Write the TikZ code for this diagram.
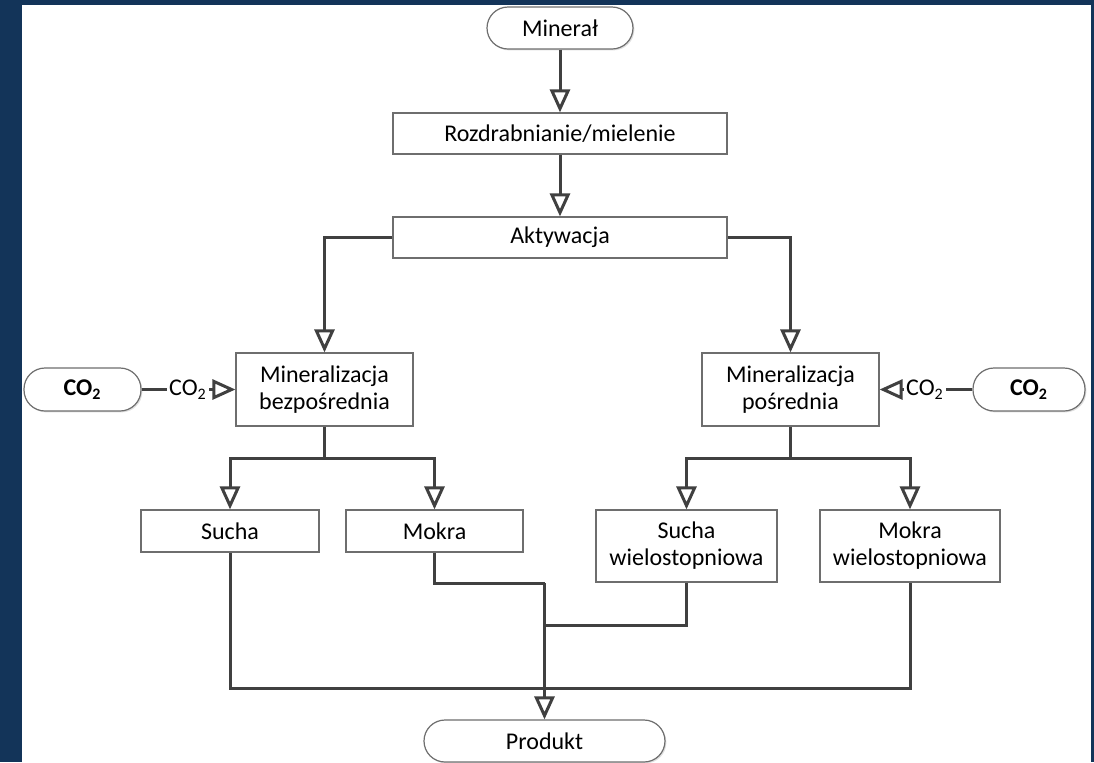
\documentclass[tikz,border=0pt]{standalone}
\usepackage{fontspec}
\setmainfont{Carlito}
\usetikzlibrary{arrows.meta,shadows}
\definecolor{navy}{RGB}{19,52,89}
\definecolor{wire}{RGB}{64,64,64}
\definecolor{edge}{RGB}{110,110,110}
\tikzset{
  boxbase/.style={draw=edge, line width=0.6pt, fill=white, inner sep=0pt,
    align=center, font=\fontsize{12}{13.5}\selectfont,
    drop shadow={shadow xshift=0.7pt, shadow yshift=-0.7pt, opacity=0.25}},
  procbox/.style={boxbase},
  termbox/.style={boxbase, rounded corners=10.5pt},
  wirel/.style={draw=wire, line width=1.5pt},
  arr/.style={wirel, -{Triangle[open, length=11.5pt, width=10pt]}},
  gaslabel/.style={inner sep=1pt, font=\fontsize{12}{13.5}\selectfont}
}
\begin{document}
\begin{tikzpicture}[x=0.5pt, y=-0.5pt]
  % frame and canvas
  \useasboundingbox (0,0) rectangle (1094,762);
  \fill[navy] (0,0) rectangle (1094,762);
  \fill[white] (22,5) rectangle (1091,762);

  % nodes
  \node[termbox, minimum width=73pt, minimum height=21pt] (miner) at (560,28) {Minerał};
  \node[procbox, minimum width=167pt, minimum height=20.5pt] (rozd) at (560,133.5) {Rozdrabnianie/mielenie};
  \node[procbox, minimum width=167pt, minimum height=20.5pt] (akt) at (560,237.5) {Aktywacja};
  \node[procbox, minimum width=88.5pt, minimum height=36.5pt] (bezp) at (324.5,389.5) {Mineralizacja\\bezpośrednia};
  \node[procbox, minimum width=88.5pt, minimum height=36.5pt] (posr) at (790.5,389.5) {Mineralizacja\\pośrednia};
  \node[termbox, minimum width=58.5pt, minimum height=21.5pt] (co2L) at (82.5,389.5) {\textbf{CO\textsubscript{2}}};
  \node[termbox, minimum width=56pt, minimum height=21.5pt] (co2R) at (1029,389.5) {\textbf{CO\textsubscript{2}}};
  \node[gaslabel] (labL) at (188,389.5) {CO\textsubscript{2}};
  \node[gaslabel] (labR) at (925,389.5) {CO\textsubscript{2}};
  \node[procbox, minimum width=89pt, minimum height=21pt] (sucha) at (230,531) {Sucha};
  \node[procbox, minimum width=88.5pt, minimum height=21pt] (mokra) at (434.5,531) {Mokra};
  \node[procbox, minimum width=90.5pt, minimum height=36pt] (suchaw) at (686.5,546) {Sucha\\wielostopniowa};
  \node[procbox, minimum width=90pt, minimum height=36pt] (mokraw) at (910,546) {Mokra\\wielostopniowa};
  \node[termbox, minimum width=120.5pt, minimum height=21pt] (prod) at (544.5,741) {Produkt};

  % junction points
  \coordinate (jL) at (324.5,458);
  \coordinate (jR) at (790.5,458);
  \coordinate (mk) at (544.5,583);
  \coordinate (sw) at (544.5,625);
  \coordinate (bus) at (544.5,688);

  % main line
  \draw[arr] (miner) -- (rozd);
  \draw[arr] (rozd) -- (akt);
  \draw[arr] (akt.west) -| (bezp.north);
  \draw[arr] (akt.east) -| (posr.north);

  % CO2 feeds
  \draw[wirel] (co2L.east) -- (labL.west);
  \draw[arr] (labL.east) -- (bezp.west);
  \draw[wirel] (co2R.west) -- (labR.east);
  \draw[arr] (labR.west) -- (posr.east);

  % branches
  \draw[wirel] (bezp.south) -- (jL);
  \draw[arr] (jL) -| (sucha.north);
  \draw[arr] (jL) -| (mokra.north);
  \draw[wirel] (posr.south) -- (jR);
  \draw[arr] (jR) -| (suchaw.north);
  \draw[arr] (jR) -| (mokraw.north);

  % collection to product
  \draw[wirel] (sucha.south) -- (sucha.south |- bus) -- (mokraw.south |- bus) -- (mokraw.south);
  \draw[wirel] (mokra.south) |- (mk);
  \draw[wirel] (suchaw.south) |- (sw);
  \draw[arr] (mk) -- (prod.north);
\end{tikzpicture}
\end{document}
